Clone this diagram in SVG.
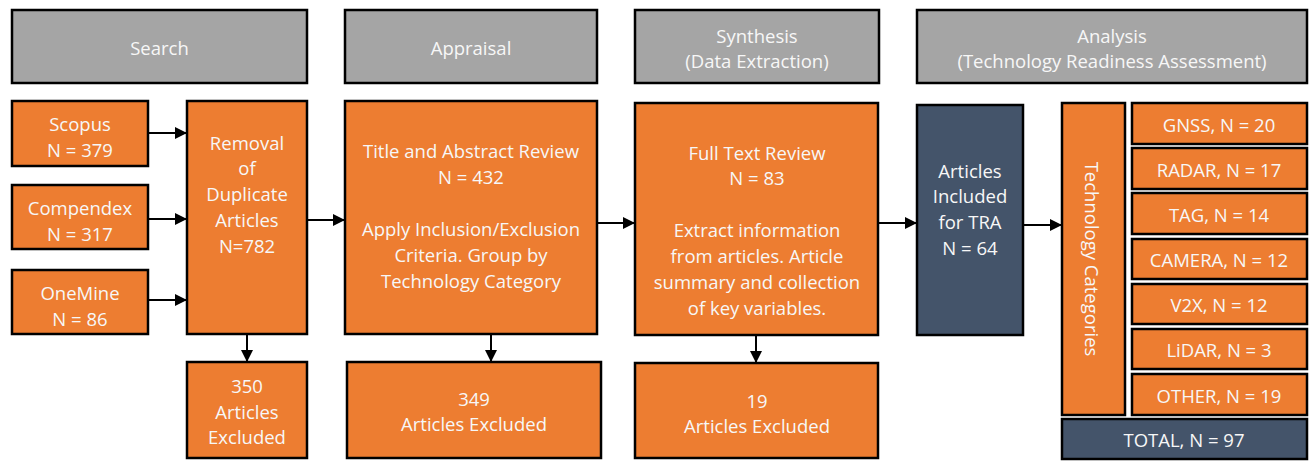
<svg xmlns="http://www.w3.org/2000/svg" width="1314" height="462" viewBox="0 0 1314 462">
<defs>
<style>
.hdr{fill:#a5a5a5;stroke:#000;stroke-width:2.5}
.org{fill:#ed7d31;stroke:#000;stroke-width:2.5}
.drk{fill:#44546a;stroke:#000;stroke-width:2.5}
text{font-family:"Open Sans","Noto Sans",sans-serif;font-size:18.5px;fill:#f7f7f7;text-anchor:middle;dominant-baseline:central}
.conn line{stroke:#000;stroke-width:2;marker-end:url(#ah)}
</style>
<marker id="ah" viewBox="0 0 10 10" refX="10" refY="5" markerWidth="6" markerHeight="6" orient="auto" markerUnits="strokeWidth">
<path d="M0,0 L10,5 L0,10 Z" fill="#000"/>
</marker>
</defs>
<rect width="1314" height="462" fill="#fff"/>

<g id="h-search"><rect class="hdr" x="12" y="10" width="295" height="73"/><text x="159.5" y="47">Search</text></g>
<g id="h-appraisal"><rect class="hdr" x="345" y="10" width="252" height="73"/><text x="471" y="47">Appraisal</text></g>
<g id="h-synthesis"><rect class="hdr" x="635" y="10" width="244" height="73"/><text x="757" y="35">Synthesis</text><text x="757" y="60">(Data Extraction)</text></g>
<g id="h-analysis"><rect class="hdr" x="917" y="10" width="390" height="73"/><text x="1112" y="35">Analysis</text><text x="1112" y="60">(Technology Readiness Assessment)</text></g>

<g id="scopus"><rect class="org" x="12" y="101" width="136" height="65"/><text x="80" y="123">Scopus</text><text x="80" y="149">N = 379</text></g>
<g id="compendex"><rect class="org" x="12" y="185" width="136" height="64"/><text x="80" y="207">Compendex</text><text x="80" y="233">N = 317</text></g>
<g id="onemine"><rect class="org" x="12" y="270" width="136" height="64"/><text x="80" y="292">OneMine</text><text x="80" y="318">N = 86</text></g>

<g id="removal"><rect class="org" x="187" y="101" width="120" height="233"/>
<text x="247" y="142">Removal</text><text x="247" y="167">of</text><text x="247" y="193">Duplicate</text><text x="247" y="219">Articles</text><text x="247" y="245">N=782</text></g>
<g id="excl350"><rect class="org" x="187" y="362" width="120" height="96"/><text x="247" y="385">350</text><text x="247" y="411">Articles</text><text x="247" y="436">Excluded</text></g>

<g id="title-review"><rect class="org" x="345" y="101" width="252" height="233"/>
<text x="471" y="150">Title and Abstract Review</text><text x="471" y="176">N = 432</text>
<text x="471" y="228">Apply Inclusion/Exclusion</text><text x="471" y="254">Criteria. Group by</text><text x="471" y="280">Technology Category</text></g>
<g id="excl349"><rect class="org" x="347" y="362" width="254" height="96"/><text x="474" y="398">349</text><text x="474" y="423">Articles Excluded</text></g>

<g id="fulltext"><rect class="org" x="635" y="103" width="243" height="232"/>
<text x="757" y="152">Full Text Review</text><text x="757" y="177">N = 83</text>
<text x="757" y="229">Extract information</text><text x="757" y="255">from articles. Article</text><text x="757" y="281">summary and collection</text><text x="757" y="307">of key variables.</text></g>
<g id="excl19"><rect class="org" x="635" y="363" width="243" height="95"/><text x="757" y="400">19</text><text x="757" y="425">Articles Excluded</text></g>

<g id="included"><rect class="drk" x="917" y="105" width="106" height="230"/>
<text x="970" y="170">Articles</text><text x="970" y="195">Included</text><text x="970" y="221">for TRA</text><text x="970" y="247">N = 64</text></g>

<g id="techcat"><rect class="org" x="1062" y="103" width="63" height="312"/><text transform="translate(1092,259) rotate(90)" x="0" y="0">Technology Categories</text></g>

<g id="gnss"><rect class="org" x="1132" y="103" width="175" height="41"/><text x="1219" y="124">GNSS, N = 20</text></g>
<g id="radar"><rect class="org" x="1132" y="148" width="175" height="41"/><text x="1219" y="169">RADAR, N = 17</text></g>
<g id="tag"><rect class="org" x="1132" y="193" width="175" height="41"/><text x="1219" y="214">TAG, N = 14</text></g>
<g id="camera"><rect class="org" x="1132" y="239" width="175" height="40"/><text x="1219" y="259">CAMERA, N = 12</text></g>
<g id="v2x"><rect class="org" x="1132" y="284" width="175" height="40"/><text x="1219" y="304">V2X, N = 12</text></g>
<g id="lidar"><rect class="org" x="1132" y="329" width="175" height="40"/><text x="1219" y="349">LiDAR, N = 3</text></g>
<g id="other"><rect class="org" x="1132" y="374" width="175" height="41"/><text x="1219" y="395">OTHER, N = 19</text></g>
<g id="total"><rect class="drk" x="1062" y="419" width="245" height="40"/><text x="1184" y="439">TOTAL, N = 97</text></g>

<g id="connectors" class="conn">
<line x1="148" y1="133" x2="187" y2="133"/>
<line x1="148" y1="219" x2="187" y2="219"/>
<line x1="148" y1="300" x2="187" y2="300"/>
<line x1="307" y1="220" x2="345" y2="220"/>
<line x1="597" y1="223" x2="635" y2="223"/>
<line x1="878" y1="223" x2="917" y2="223"/>
<line x1="1023" y1="225" x2="1062" y2="225"/>
<line x1="247" y1="334" x2="247" y2="362"/>
<line x1="491" y1="334" x2="491" y2="362"/>
<line x1="756" y1="335" x2="756" y2="363"/>
</g>
</svg>
